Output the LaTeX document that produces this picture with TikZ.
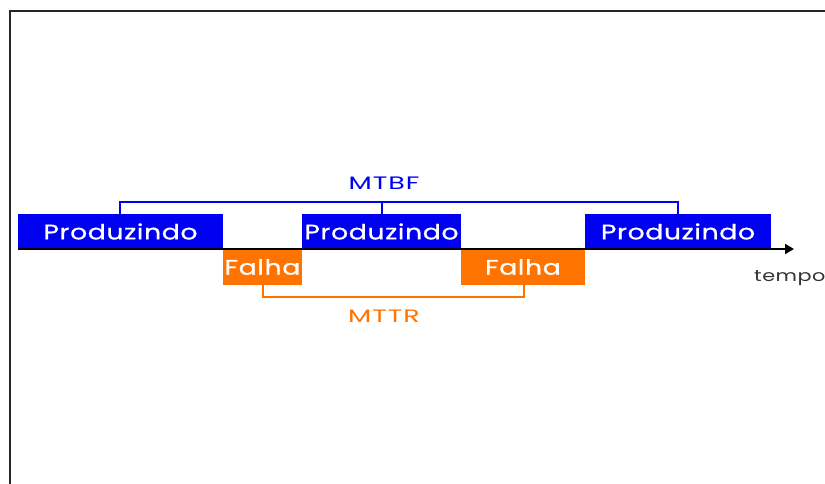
\documentclass[tikz,border=0pt]{standalone}
\usepackage{fontspec}
\setmainfont{Poppins}
\usetikzlibrary{arrows.meta}
\definecolor{pblue}{RGB}{0,0,240}
\definecolor{porange}{RGB}{255,115,0}
\begin{document}
\begin{tikzpicture}[x=1pt,y=-1pt,
  boxtxt/.style={draw=none,inner sep=0pt,text=white,font=\fontsize{21}{21}\selectfont\addfontfeatures{FakeStretch=1.27,FakeBold=0.8,LetterSpace=3}},
  prod/.style={boxtxt,fill=pblue},
  fail/.style={boxtxt,fill=porange},
  lbl/.style={inner sep=0pt,font=\fontsize{18}{18}\selectfont\addfontfeatures{FakeStretch=1.5,LetterSpace=5}},
  brb/.style={pblue,line width=2pt},
  bro/.style={porange,line width=2pt}]
\useasboundingbox (0,0) rectangle (825,483);
\draw[line width=2pt,black!85] (10,490) -- (10,11) -- (830,11);
% boxes
\node[prod,minimum width=205pt,minimum height=35pt] (p1) at (120.5,231.5) {Produzindo};
\node[prod,minimum width=159pt,minimum height=35pt] (p2) at (381.5,231.5) {Produzindo};
\node[prod,minimum width=186pt,minimum height=35pt] (p3) at (678,231.5) {Produzindo};
\node[fail,minimum width=79pt,minimum height=36pt] (f1) at (262.5,267) {Falha};
\node[fail,minimum width=124pt,minimum height=36pt] (f2) at (523,267) {Falha};
% axis
\coordinate (a0) at (18,249);
\coordinate (a1) at (794,249);
\draw[line width=2pt,-{Triangle[length=9pt,width=10pt]}] (a0) -- (a1);
\node[inner sep=0pt,anchor=base west,text=black!80,font=\fontsize{16}{16}\selectfont\addfontfeatures{FakeStretch=1.3,LetterSpace=3}] (t) at (754,281) {tempo};
% MTBF bracket
\coordinate (b1) at (120,202);
\coordinate (b2) at (678,202);
\coordinate (b3) at (382,202);
\draw[brb] (p1.north -| b1) -- (b1) -- (b2) -- (p3.north -| b2);
\draw[brb] (b3) -- (p2.north -| b3);
\node[lbl,text=pblue] (mtbf) at (384,183) {MTBF};
% MTTR bracket
\coordinate (c1) at (263,297);
\coordinate (c2) at (524,297);
\draw[bro] (f1.south -| c1) -- (c1) -- (c2) -- (f2.south -| c2);
\node[lbl,text=porange] (mttr) at (384,316) {MTTR};
\end{tikzpicture}
\end{document}
